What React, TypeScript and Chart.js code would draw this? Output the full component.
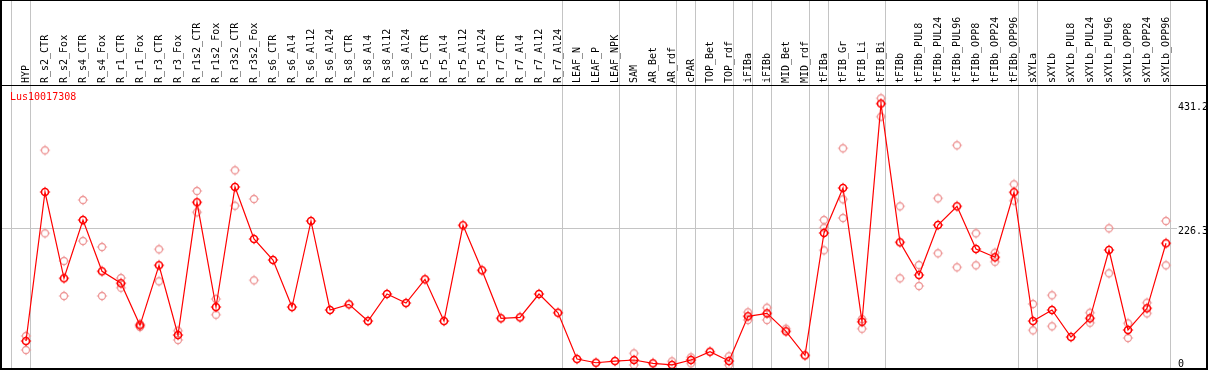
import React, { useEffect, useRef } from "react";
import { Chart, registerables } from "chart.js";

Chart.register(...registerables);

const geneName = "Lus10017308";

const categories = [
  "HYP", "R_s2_CTR", "R_s2_Fox", "R_s4_CTR", "R_s4_Fox", "R_r1_CTR", "R_r1_Fox", "R_r3_CTR", "R_r3_Fox",
  "R_r1s2_CTR", "R_r1s2_Fox", "R_r3s2_CTR", "R_r3s2_Fox", "R_s6_CTR", "R_s6_Al4", "R_s6_Al12", "R_s6_Al24",
  "R_s8_CTR", "R_s8_Al4", "R_s8_Al12", "R_s8_Al24", "R_r5_CTR", "R_r5_Al4", "R_r5_Al12", "R_r5_Al24",
  "R_r7_CTR", "R_r7_Al4", "R_r7_Al12", "R_r7_Al24", "LEAF_N", "LEAF_P", "LEAF_NPK", "SAM", "AR_Bet", "AR_rdf",
  "cPAR", "TOP_Bet", "TOP_rdf", "iFIBa", "iFIBb", "MID_Bet", "MID_rdf", "tFIBa", "tFIB_Gr", "tFIB_Li", "tFIB_Bi",
  "tFIBb", "tFIBb_PUL8", "tFIBb_PUL24", "tFIBb_PUL96", "tFIBb_OPP8", "tFIBb_OPP24", "tFIBb_OPP96",
  "sXYLa", "sXYLb", "sXYLb_PUL8", "sXYLb_PUL24", "sXYLb_PUL96", "sXYLb_OPP8", "sXYLb_OPP24", "sXYLb_OPP96",
];

const meanValues = [
  39.4, 285.3, 142.9, 239.1, 154.5, 134.7, 65.3, 164.4, 49.3,
  268.3, 95.5, 293.6, 207.8, 173.1, 95.5, 237.5, 90.6,
  100.0, 72.4, 117.0, 102.1, 141.3, 72.4, 230.4, 156.1,
  76.9, 78.5, 117.0, 86.1, 9.7, 3.6, 6.4, 8.1, 2.6, 0.0,
  8.1, 21.8, 6.4, 80.2, 85.1, 55.4, 15.8, 217.7, 291.9, 71.3, 431.2,
  202.3, 148.3, 230.9, 261.7, 191.3, 177.6, 284.8,
  72.4, 90.6, 46.0, 76.9, 189.6, 57.6, 93.4, 200.7,
];

const rep1 = [
  47.7, 354.1, 171.5, 272.1, 194.6, 143.4, 67.5, 190.8, 56.4,
  287.0, 108.7, 321.1, 273.8, null, null, null, null,
  null, null, null, null, null, null, null, null,
  null, null, null, null, null, null, null, 19.1, null, 5.9,
  12.5, null, 14.2, 86.8, 94.4, 59.7, null, 239.1, 357.4, 75.7, 439.9,
  261.7, 164.9, 274.9, 362.4, 217.2, 185.1, 298.0,
  100.5, 114.9, null, 86.1, 225.4, 68.6, 102.6, 237.5,
];

const rep2 = [
  24.6, 217.2, 113.7, 204.5, 113.7, 127.4, 62.5, 138.0, 41.1,
  251.8, 82.8, 262.7, 139.6, null, null, null, null,
  null, null, null, null, null, null, null, null,
  null, null, null, null, null, null, null, 0.0, null, null,
  2.6, null, 0.0, 74.1, 74.1, null, null, 226.4, 273.3, 59.7, 409.6,
  142.9, 130.2, 184.2, 161.1, 164.4, 170.3, 271.0,
  57.1, 63.7, null, 69.6, 151.2, 44.4, 85.1, 164.4,
];

const rep3 = [
  null, null, null, null, null, null, null, null, null,
  null, null, null, null, null, null, null, null,
  null, null, null, null, null, null, null, null,
  null, null, null, null, null, null, null, null, null, null,
  null, null, null, null, null, null, null, 189.1, 242.4, null, null,
  null, null, null, null, null, null, null,
  null, null, null, null, null, null, null, null,
];

// right-hand axis labels
const axisTicks = [431.2, 226.3, 0];
// vertical separators drawn after these category indices (-1 = before first)
const groupEnds = [-1, 0, 28, 31, 34, 35, 37, 38, 39, 41, 42, 45, 52, 53, 60];

const FONT = '10px "DejaVu Sans Mono", monospace';

function makeMarker(color: string, lw: number): HTMLCanvasElement {
  const c = document.createElement("canvas");
  c.width = 12;
  c.height = 12;
  const g = c.getContext("2d")!;
  g.strokeStyle = color;
  g.lineWidth = lw;
  g.beginPath();
  g.arc(6, 6, 3.5, 0, Math.PI * 2);
  g.stroke();
  g.lineWidth = 1;
  g.beginPath();
  g.moveTo(6, 0.8); g.lineTo(6, 2.2);
  g.moveTo(6, 9.8); g.lineTo(6, 11.2);
  g.moveTo(0.8, 6); g.lineTo(2.2, 6);
  g.moveTo(9.8, 6); g.lineTo(11.2, 6);
  g.stroke();
  return c;
}

export default function App() {
  const ref = useRef<HTMLCanvasElement | null>(null);

  useEffect(() => {
    const canvas = ref.current!;
    const mainMarker = makeMarker("#ff0000", 1.6);
    const repMarker = makeMarker("#ee9a9a", 1.3);

    const repPoints: { x: number; y: number }[] = [];
    [rep1, rep2, rep3].forEach((arr) =>
      arr.forEach((v, i) => {
        if (v !== null && v !== undefined) repPoints.push({ x: i, y: v as number });
      })
    );

    const off = 15 / 19;
    const sepOff = 4 / 19;

    const decor = {
      id: "decor",
      beforeDatasetsDraw(chart: any) {
        const ctx = chart.ctx;
        const xs = chart.scales.x;
        const ys = chart.scales.y;
        ctx.save();
        ctx.fillStyle = "#c4c4c4";
        groupEnds.forEach((g) => {
          const px = Math.round(xs.getPixelForValue(g + sepOff));
          ctx.fillRect(px, 1, 1, 367);
        });
        const gy = Math.round(ys.getPixelForValue(226.3));
        ctx.fillRect(2, gy, 1175, 1);
        ctx.restore();
      },
      afterDatasetsDraw(chart: any) {
        const ctx = chart.ctx;
        const xs = chart.scales.x;
        const ys = chart.scales.y;
        ctx.save();
        // header labels
        ctx.font = FONT;
        ctx.fillStyle = "#000";
        ctx.textAlign = "left";
        ctx.textBaseline = "middle";
        categories.forEach((c, i) => {
          const px = xs.getPixelForValue(i);
          ctx.save();
          ctx.translate(px, 83);
          ctx.rotate(-Math.PI / 2);
          ctx.fillText(c, 0, 0);
          ctx.restore();
        });
        // gene name
        ctx.fillStyle = "#ff0000";
        ctx.textBaseline = "middle";
        ctx.fillText(geneName, 10, 97.5);
        // right axis labels
        ctx.fillStyle = "#000";
        ctx.textBaseline = "top";
        axisTicks.forEach((t) => {
          let py = ys.getPixelForValue(t) - 1.5;
          if (py > 359) py = 359;
          ctx.fillText(String(t), 1178, py);
        });
        // frame
        ctx.fillStyle = "#000";
        ctx.fillRect(0, 0, 1208, 1);
        ctx.fillRect(0, 0, 2, 370);
        ctx.fillRect(1206, 0, 2, 370);
        ctx.fillRect(0, 368, 1208, 2);
        ctx.fillRect(0, 85, 1208, 1);
        ctx.restore();
      },
    };

    const chart = new Chart(canvas, {
      type: "line",
      data: {
        datasets: [
          {
            type: "line",
            data: meanValues.map((v, i) => ({ x: i, y: v })),
            borderColor: "#ff0000",
            borderWidth: 1.2,
            pointStyle: mainMarker as any,
            pointRadius: 5,
            tension: 0,
            clip: false as any,
            order: 0,
          },
          {
            type: "scatter",
            data: repPoints,
            showLine: false,
            pointStyle: repMarker as any,
            pointRadius: 5,
            clip: false as any,
            order: 1,
          } as any,
        ],
      },
      options: {
        responsive: false,
        devicePixelRatio: 1,
        animation: false,
        events: [],
        layout: { autoPadding: false, padding: { left: 11, right: 39, top: 86, bottom: 2 } },
        plugins: { legend: { display: false }, tooltip: { enabled: false }, title: { display: false } },
        scales: {
          x: { type: "linear", display: false, min: -off, max: 60 + sepOff },
          y: { type: "linear", display: false, min: -5.1, max: 460.2 },
        },
      },
      plugins: [decor],
    });
    return () => chart.destroy();
  }, []);

  return (
    <canvas
      ref={ref}
      width={1209}
      height={370}
      style={{ position: "fixed", left: 0, top: 0, width: 1209, height: 370, background: "#fff" }}
    />
  );
}
